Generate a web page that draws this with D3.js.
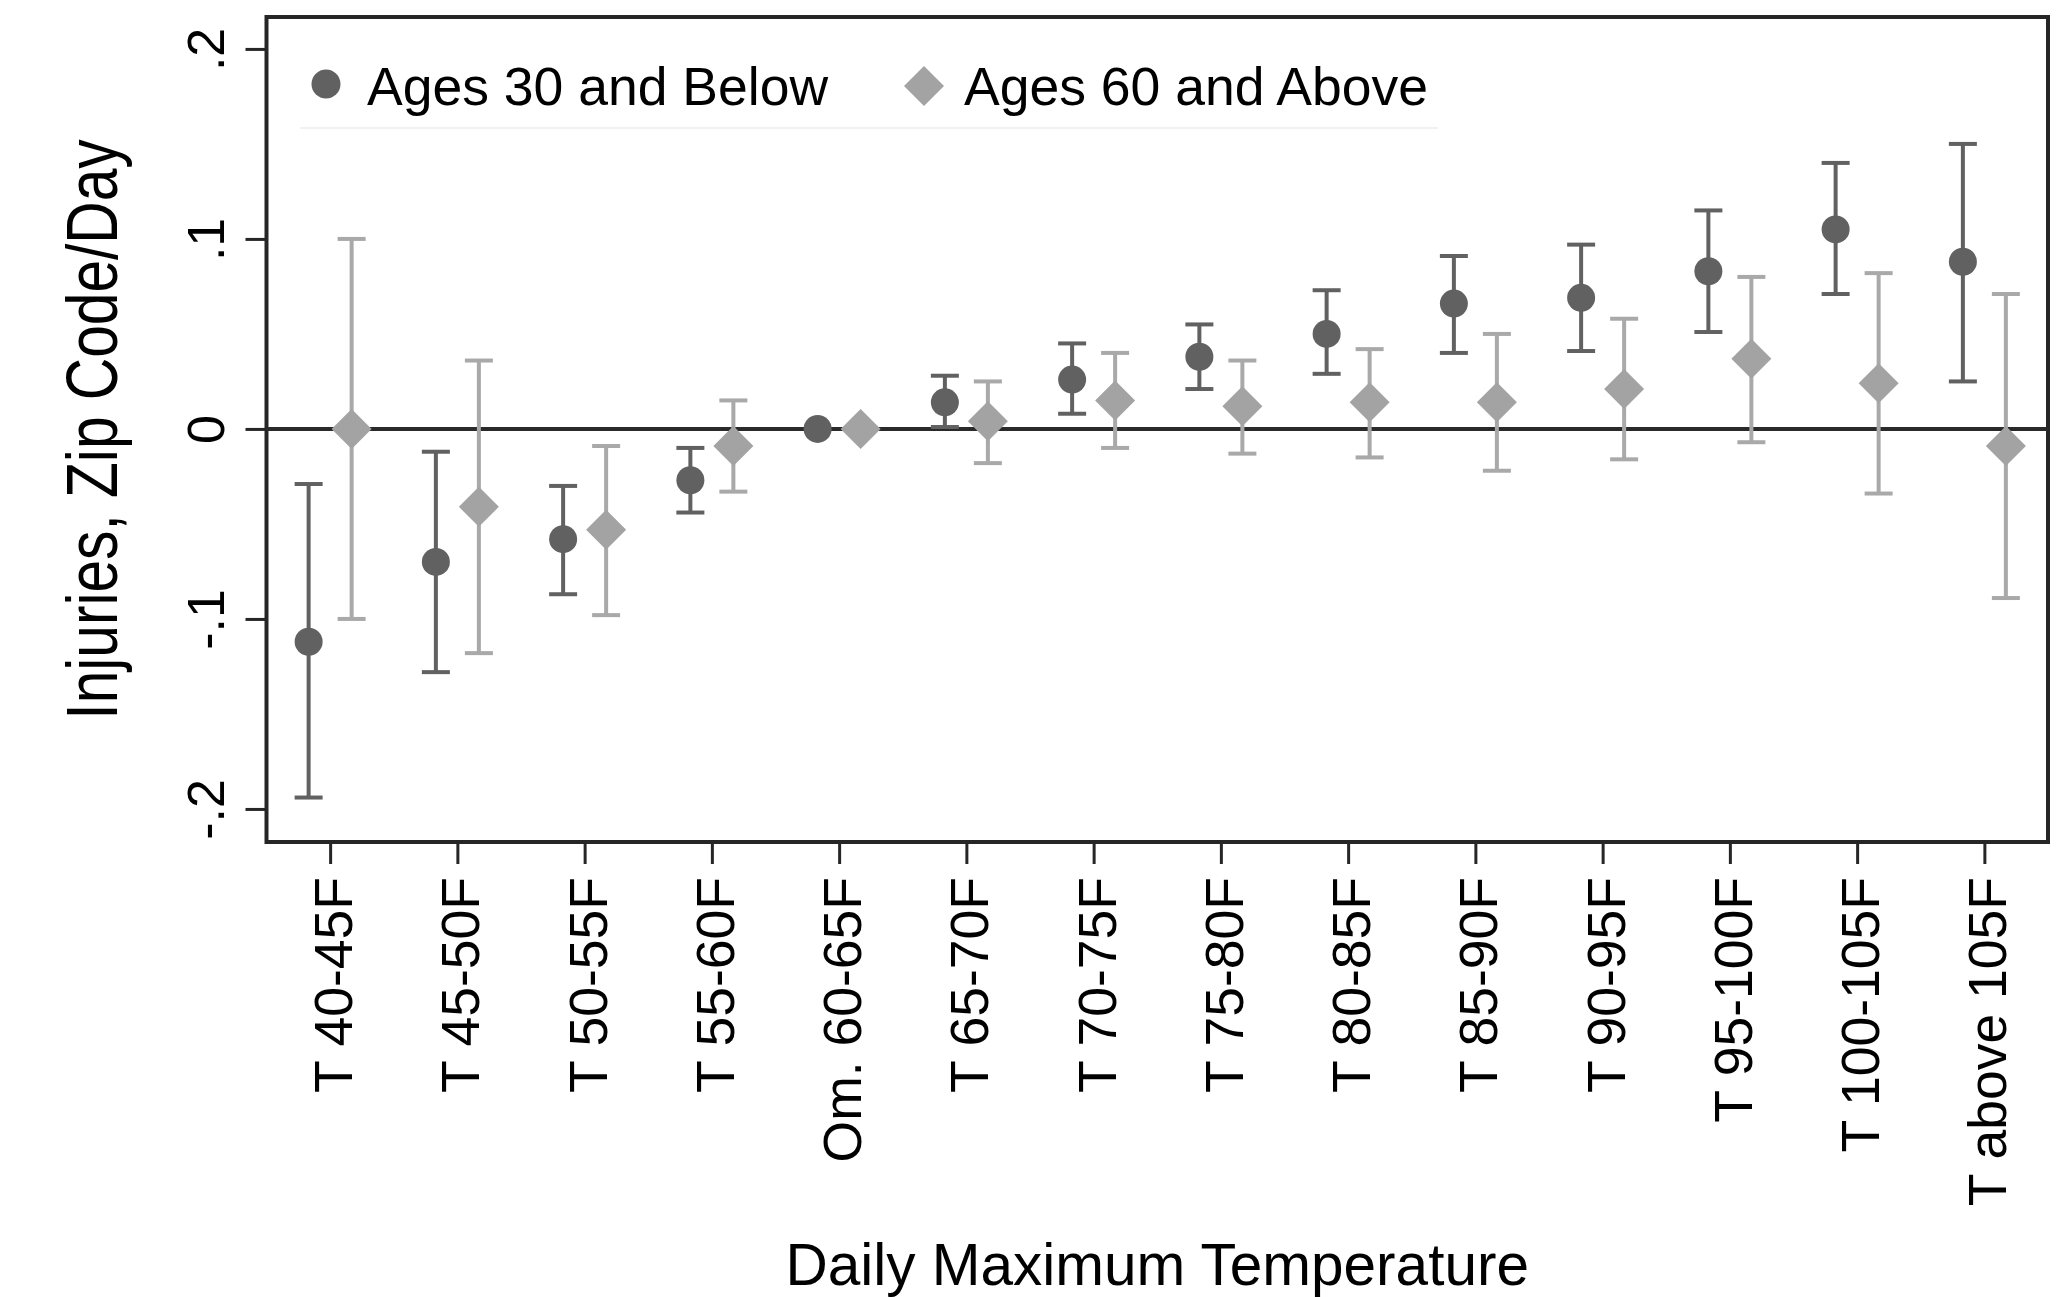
<!DOCTYPE html>
<html>
<head>
<meta charset="utf-8">
<script src="https://cdn.jsdelivr.net/npm/d3@7"></script>
<style>
  html, body { margin: 0; padding: 0; background: #fff; }
  svg { display: block; }
  text { font-family: Arial, "Liberation Sans", sans-serif; fill: #000; }
</style>
</head>
<body>
<svg id="chart" width="2069" height="1297"></svg>
<script>
const categories = ["T 40-45F","T 45-50F","T 50-55F","T 55-60F","Om. 60-65F","T 65-70F","T 70-75F","T 75-80F","T 80-85F","T 85-90F","T 90-95F","T 95-100F","T 100-105F","T above 105F"];
const youngEst = [-0.112, -0.070, -0.058, -0.027, 0, 0.014, 0.026, 0.038, 0.050, 0.066, 0.069, 0.083, 0.105, 0.088];
const youngLo  = [-0.194, -0.128, -0.087, -0.044, null, 0.001, 0.008, 0.021, 0.029, 0.040, 0.041, 0.051, 0.071, 0.025];
const youngHi  = [-0.029, -0.012, -0.030, -0.010, null, 0.028, 0.045, 0.055, 0.073, 0.091, 0.097, 0.115, 0.140, 0.150];
const oldEst   = [0.000, -0.041, -0.053, -0.009, 0, 0.004, 0.015, 0.012, 0.014, 0.014, 0.021, 0.037, 0.024, -0.009];
const oldLo    = [-0.100, -0.118, -0.098, -0.033, null, -0.018, -0.010, -0.013, -0.015, -0.022, -0.016, -0.007, -0.034, -0.089];
const oldHi    = [0.100, 0.036, -0.009, 0.015, null, 0.025, 0.040, 0.036, 0.042, 0.050, 0.058, 0.080, 0.082, 0.071];
const yTicks = [-0.2, -0.1, 0, 0.1, 0.2];
const yTickLabels = ["-.2", "-.1", "0", ".1", ".2"];
const seriesNames = ["Ages 30 and Below", "Ages 60 and Above"];
const xTitle = "Daily Maximum Temperature";
const yTitle = "Injuries, Zip Code/Day";

const svg = d3.select("#chart");
const L = 266.5, R = 2048, T = 17, B = 842;

const x = d3.scalePoint().domain(categories).range([L, R]).padding(0.5);
const xs = d3.scalePoint().domain(["young", "old"]).range([-21.5, 21.5]);
const y = d3.scaleLinear().domain([-0.2174, 0.2168]).range([B, T]);

const dark = "#616161", light = "#a3a3a3", lightBar = "#a9a9a9";

// frame
svg.append("rect").attr("x", L).attr("y", T).attr("width", R - L).attr("height", B - T)
  .attr("fill", "none").attr("stroke", "#262626").attr("stroke-width", 4);

// legend bottom rule
svg.append("line").attr("x1", 300).attr("x2", 1438).attr("y1", 128).attr("y2", 128)
  .attr("stroke", "#ececec").attr("stroke-width", 1.5);

// zero line
svg.append("line").attr("x1", L).attr("x2", R).attr("y1", y(0)).attr("y2", y(0))
  .attr("stroke", "#2a2a2a").attr("stroke-width", 4);

// y axis
const yAxis = d3.axisLeft(y).tickValues(yTicks).tickSize(21).tickFormat((d, i) => yTickLabels[i]);
const gy = svg.append("g").attr("transform", `translate(${L},0)`).call(yAxis);
gy.select(".domain").remove();
gy.selectAll(".tick line").attr("stroke", "#262626").attr("stroke-width", 3);
gy.selectAll(".tick text")
  .attr("x", null).attr("dy", null)
  .attr("transform", "translate(-43,0) rotate(-90)")
  .attr("text-anchor", "middle")
  .style("font-size", "52px")
  .style("font-family", "Arial, 'Liberation Sans', sans-serif");

// x axis
const xAxis = d3.axisBottom(x).tickSize(22);
const gx = svg.append("g").attr("transform", `translate(0,${B})`).call(xAxis);
gx.select(".domain").remove();
gx.selectAll(".tick line").attr("stroke", "#262626").attr("stroke-width", 3);
gx.selectAll(".tick text")
  .attr("y", null).attr("dy", null)
  .attr("transform", "translate(21.5,35) rotate(-90)")
  .attr("text-anchor", "end")
  .style("font-size", "53.5px")
  .style("font-family", "Arial, 'Liberation Sans', sans-serif");

// data
const rows = categories.map((c, i) => ({ c, yE: youngEst[i], yL: youngLo[i], yH: youngHi[i], oE: oldEst[i], oL: oldLo[i], oH: oldHi[i] }));
const cap = 14;

function bars(key, lo, hi, color) {
  const g = svg.append("g").attr("stroke", color).attr("stroke-width", 4).attr("fill", "none");
  const d = rows.filter(r => r[lo] !== null);
  const cx = r => x(r.c) + xs(key);
  g.selectAll(".v").data(d).join("line")
    .attr("x1", cx).attr("x2", cx).attr("y1", r => y(r[lo])).attr("y2", r => y(r[hi]));
  g.selectAll(".t").data(d).join("line")
    .attr("x1", r => cx(r) - cap).attr("x2", r => cx(r) + cap).attr("y1", r => y(r[hi])).attr("y2", r => y(r[hi]));
  g.selectAll(".b").data(d).join("line")
    .attr("x1", r => cx(r) - cap).attr("x2", r => cx(r) + cap).attr("y1", r => y(r[lo])).attr("y2", r => y(r[lo]));
}

bars("young", "yL", "yH", dark);
svg.append("g").selectAll("ellipse").data(rows).join("ellipse")
  .attr("cx", r => x(r.c) + xs("young")).attr("cy", r => y(r.yE))
  .attr("rx", 14).attr("ry", 14).attr("fill", dark);

bars("old", "oL", "oH", lightBar);
const diamond = d3.symbol().type(d3.symbolSquare).size(800);
svg.append("g").selectAll("path").data(rows).join("path")
  .attr("d", diamond)
  .attr("transform", r => `translate(${x(r.c) + xs("old")},${y(r.oE)}) rotate(45)`)
  .attr("fill", light);

// legend
const lg = svg.append("g");
lg.append("circle").attr("cx", 326).attr("cy", 84).attr("r", 14.5).attr("fill", dark);
lg.append("text").attr("x", 367).attr("y", 105).style("font-size", "53.5px").text(seriesNames[0]);
lg.append("path").attr("d", diamond).attr("transform", "translate(924,86) rotate(45)").attr("fill", light);
lg.append("text").attr("x", 964).attr("y", 105).style("font-size", "53.5px").text(seriesNames[1]);

// axis titles
svg.append("text").attr("x", (L + R) / 2).attr("y", 1285).attr("text-anchor", "middle")
  .style("font-size", "58.5px").text(xTitle);
svg.append("text").attr("transform", `translate(117,${(T + B) / 2}) rotate(-90) scale(0.815,1)`)
  .attr("text-anchor", "middle").style("font-size", "72px")
  .text(yTitle);
</script>
</body>
</html>
